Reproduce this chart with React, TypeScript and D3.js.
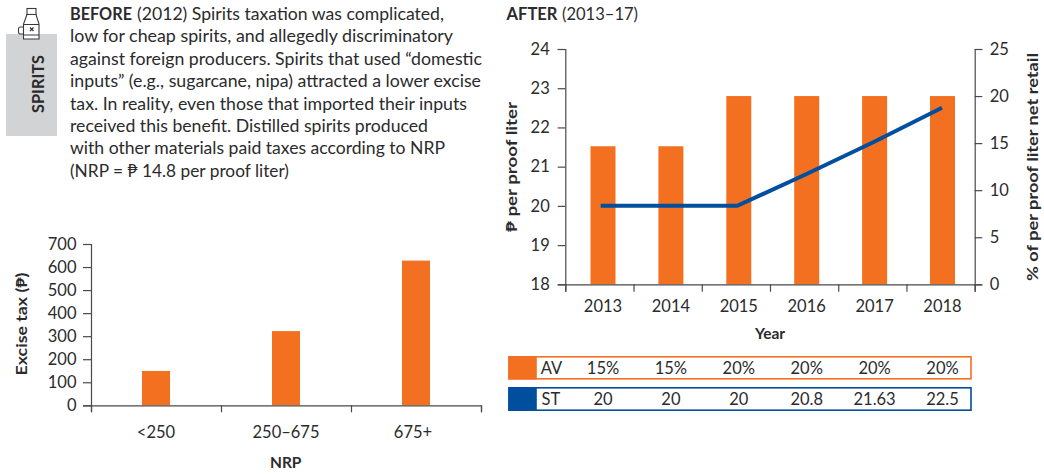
import React, { useEffect, useRef } from "react";
import * as d3 from "d3";

const introLines = [
  "(2012) Spirits taxation was complicated,",
  "low for cheap spirits, and allegedly discriminatory",
  "against foreign producers. Spirits that used “domestic",
  "inputs” (e.g., sugarcane, nipa) attracted a lower excise",
  "tax. In reality, even those that imported their inputs",
  "received this benefit. Distilled spirits produced",
  "with other materials paid taxes according to NRP",
  "(NRP = ₱ 14.8 per proof liter)",
];
const introWidths = [307, 383, 412, 411, 397, 358, 375, 219];

const nrpBands = ["<250", "250–675", "675+"];
const exciseTax = [149, 322, 628];
const leftTicks = [0, 100, 200, 300, 400, 500, 600, 700];

const years = ["2013", "2014", "2015", "2016", "2017", "2018"];
const avBars = [21.52, 21.52, 22.8, 22.8, 22.8, 22.8];
const stLine = [20, 20, 20, 20.8, 21.63, 22.5];
const avRow = ["15%", "15%", "20%", "20%", "20%", "20%"];
const stRow = ["20", "20", "20", "20.8", "21.63", "22.5"];
const pesoTicks = [18, 19, 20, 21, 22, 23, 24];
const pctTicks = [0, 5, 10, 15, 20, 25];

const ORANGE = "#f37021";
const BLUE = "#004f9f";
const INK = "#2b2b2d";
const AXIS = "#4a4a4c";
const FONT = "Lato, 'Open Sans', sans-serif";

const W = 1044;
const H = 474;

// left chart scales
const xL = d3.scaleBand<string>().domain(nrpBands).range([91, 481]);
const yL = d3.scaleLinear().domain([0, 700]).range([405.3, 244]);
const xLEdges = d3.scaleLinear().domain([0, 3]).range([91, 481]);

// right chart scales
const xBars = d3.scalePoint<string>().domain(years).range([603, 942.5]);
const xLine = d3.scalePoint<string>().domain(years).range([600.7, 942]);
const xREdges = d3.scaleLinear().domain([0, 6]).range([565.3, 974.7]);
const yPeso = d3.scaleLinear().domain([18, 24]).range([284.3, 49]);
const yPct = d3.scaleLinear().domain([0, 25]).range([284.3, 49]);

const stPath = d3
  .line<number>()
  .x((_, i) => xLine(years[i]) as number)
  .y((d) => yPeso(d));

function Axis({ make, transform }: { make: () => any; transform: string }) {
  const ref = useRef<SVGGElement>(null);
  useEffect(() => {
    const g = d3.select(ref.current as SVGGElement);
    g.call(make());
    g.selectAll("path,line").attr("stroke", AXIS).attr("stroke-width", 1.2);
    g.selectAll("text")
      .attr("fill", INK)
      .style("font-family", FONT)
      .style("font-size", "16.5px");
  }, []);
  return <g ref={ref} transform={transform} />;
}

const Vert = ({
  x,
  y,
  len,
  children,
  size = 15.5,
}: {
  x: number;
  y: number;
  len: number;
  children: React.ReactNode;
  size?: number;
}) => (
  <text
    transform={`translate(${x},${y}) rotate(-90)`}
    textAnchor="middle"
    fontFamily={FONT}
    fontWeight={700}
    fontSize={size}
    fill={INK}
    textLength={len}
    lengthAdjust="spacingAndGlyphs"
  >
    {children}
  </text>
);

export default function App() {
  return (
    <svg
      width={W}
      height={H}
      viewBox={`0 0 ${W} ${H}`}
      style={{ position: "absolute", left: 0, top: 0, background: "#fff" }}
    >
      {/* side tab */}
      <rect x={6} y={34} width={51} height={102} fill="#d1d3d4" />
      <g fill="none" stroke="#3a3a3c" strokeWidth={1.1}>
        <rect x={27} y={8.5} width={9} height={6} fill="#fff" />
        <path d="M27 14.5 L23.5 24 V39 H39 V24 L36 14.5 Z" fill="#fff" />
        <path d="M23.5 27 H20 Q18.5 27 18.5 29 V32 Q18.5 34 20 34 H23.5" />
        <path d="M23.5 24.5 H39 M23.5 35 H39" />
        <path d="M30 27.5 L33.5 31 M33.5 27.5 L30 31" strokeWidth={1.3} />
      </g>
      <Vert x={44} y={84} len={58} size={17}>SPIRITS</Vert>

      {/* intro */}
      <g fontFamily={FONT} fontSize={16.5} fill={INK}>
        <text x={70} y={20} fontWeight={700} textLength={62} lengthAdjust="spacingAndGlyphs">BEFORE</text>
        {introLines.map((line, i) => (
          <text
            key={i}
            x={i === 0 ? 137 : 70}
            y={20 + i * 22.4}
            textLength={introWidths[i]}
            lengthAdjust="spacingAndGlyphs"
          >
            {line}
          </text>
        ))}
        <text x={506.5} y={20} fontWeight={700} textLength={51} lengthAdjust="spacingAndGlyphs">AFTER</text>
        <text x={562} y={20} textLength={76} lengthAdjust="spacingAndGlyphs">(2013–17)</text>
      </g>

      {/* left chart */}
      {nrpBands.map((c, i) => {
        const cx = (xL(c) as number) + xL.bandwidth() / 2;
        return (
          <rect
            key={c}
            x={cx - 14}
            y={yL(exciseTax[i])}
            width={28}
            height={yL(0) - yL(exciseTax[i])}
            fill={ORANGE}
          />
        );
      })}
      <Axis
        transform="translate(91,0)"
        make={() =>
          d3.axisLeft(yL).tickValues(leftTicks).tickSize(8).tickPadding(6.5).tickFormat(d3.format("d") as any)
        }
      />
      <Axis
        transform="translate(0,405.3)"
        make={() =>
          d3.axisBottom(xLEdges).tickValues(d3.range(0, 4)).tickSize(7).tickFormat(() => "")
        }
      />
      <g fontFamily={FONT} fontSize={16.5} fill={INK} textAnchor="middle">
        {nrpBands.map((c) => (
          <text key={c} x={(xL(c) as number) + xL.bandwidth() / 2 - (c === "675+" ? 3 : 0)} y={438.3}>
            {c}
          </text>
        ))}
      </g>
      <text x={285.7} y={468} textAnchor="middle" fontFamily={FONT} fontWeight={700} fontSize={15.5} fill={INK}>NRP</text>
      <Vert x={26.7} y={324} len={103}>Excise tax (₱)</Vert>

      {/* right chart */}
      {years.map((y, i) => (
        <rect
          key={y}
          x={(xBars(y) as number) - 12.5}
          y={yPeso(avBars[i])}
          width={25}
          height={yPeso(18) - yPeso(avBars[i])}
          fill={ORANGE}
        />
      ))}
      <path d={stPath(stLine) as string} fill="none" stroke={BLUE} strokeWidth={4} strokeLinejoin="miter" />
      <Axis
        transform="translate(565.3,0)"
        make={() => d3.axisLeft(yPeso).tickValues(pesoTicks).tickSize(7.6).tickPadding(8).tickFormat(d3.format("d") as any)}
      />
      <Axis
        transform="translate(974.7,0)"
        make={() => d3.axisRight(yPct).tickValues(pctTicks).tickSize(7.6).tickPadding(7.5).tickFormat(d3.format("d") as any)}
      />
      <Axis
        transform="translate(0,284.3)"
        make={() => d3.axisBottom(xREdges).tickValues(d3.range(0, 7)).tickSize(7.4).tickFormat(() => "")}
      />
      <g fontFamily={FONT} fontSize={16.5} fill={INK} textAnchor="middle">
        {years.map((y) => (
          <text key={y} x={xBars(y)} y={311.7}>
            {y}
          </text>
        ))}
      </g>
      <text x={770} y={339} textAnchor="middle" fontFamily={FONT} fontWeight={700} fontSize={15.5} fill={INK}>Year</text>
      <Vert x={516.7} y={167} len={130}>₱ per proof liter</Vert>
      <Vert x={1038} y={167} len={228}>% of per proof liter net retail</Vert>

      {/* table */}
      <rect x={509} y={356.8} width={462} height={22} fill="#fff" stroke={ORANGE} strokeWidth={1.6} />
      <rect x={508.3} y={356} width={28.5} height={23.5} fill={ORANGE} />
      <rect x={509} y={387.8} width={462} height={22.4} fill="#fff" stroke={BLUE} strokeWidth={1.6} />
      <rect x={508.3} y={387} width={28.5} height={24} fill={BLUE} />
      <g fontFamily={FONT} fontSize={16.5} fill={INK}>
        <text x={540.7} y={373.5}>AV</text>
        <text x={541.5} y={404.5}>ST</text>
        <g textAnchor="middle">
          {years.map((y, i) => (
            <React.Fragment key={y}>
              <text x={xBars(y)} y={373.5}>{avRow[i]}</text>
              <text x={xBars(y)} y={404.5}>{stRow[i]}</text>
            </React.Fragment>
          ))}
        </g>
      </g>
    </svg>
  );
}
